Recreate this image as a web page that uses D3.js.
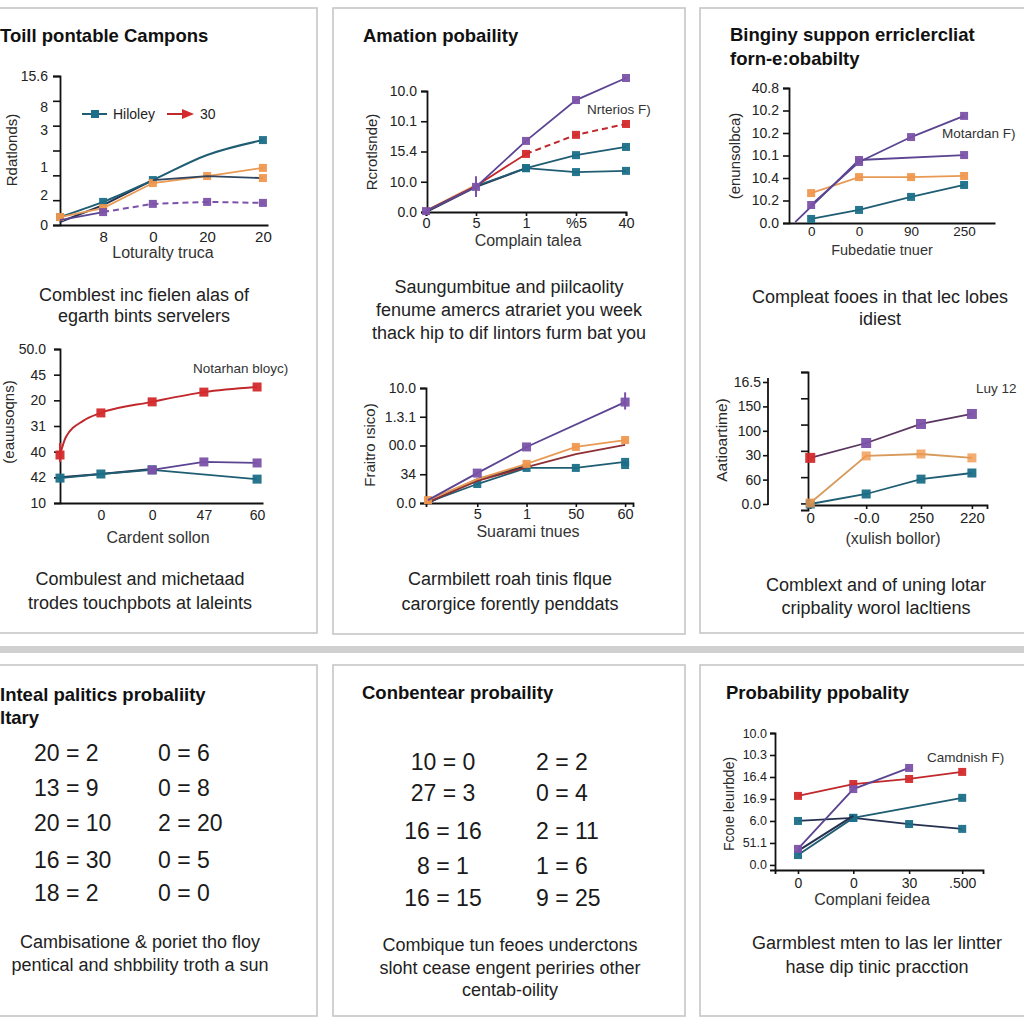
<!DOCTYPE html>
<html><head><meta charset="utf-8">
<script src="https://cdn.jsdelivr.net/npm/d3@7"></script>
<style>body{margin:0;background:#fff}svg{display:block}</style>
</head><body><svg id="c" width="1024" height="1024"></svg>
<script>
// ---------- texts ----------
const titles = ["Toill pontable Campons","Amation pobaility","Binginy suppon erriclercliat","forn-e:obabilty",
  "Inteal palitics probaliity","ltary","Conbentear probaility","Probability ppobality"];
const yTitles = ["Rdatlonds)","Rcrotlsnde)","(enunsolbca)","(eauusoqns)","Fraitro ısico)","Aatioartime)","Fcoıe leuırbde)"];
const xTitles = ["Loturalty truca","Complain talea","Fubedatie tnuer","Cardent sollon","Suarami tnues","(xulish bollor)","Complani feidea"];
const notes = ["Nrterios F)","Motardan F)","Notarhan bloyc)","Luy 12","Camdnish F)"];
const caption1 = ["Comblest inc fielen alas of","egarth bints servelers"];
const caption2 = ["Saungumbitue and piilcaolity","fenume amercs atrariet you week","thack hip to dif lintors furm bat you"];
const caption3 = ["Compleat fooes in that lec lobes","idiest"];
const caption4 = ["Combulest and michetaad","trodes touchpbots at laleints"];
const caption5 = ["Carmbilett roah tinis flque","carorgice forently penddats"];
const caption6 = ["Comblext and of uning lotar","cripbality worol lacltiens"];
const caption7 = ["Cambisatione & poriet tho floy","pentical and shbbility troth a sun"];
const caption8 = ["Combique tun feoes underctons","sloht cease engent periries other","centab-oility"];
const caption9 = ["Garmblest mten to las ler lintter","hase dip tinic pracction"];
const p1Legend = ["Hiloley","30"];

// ---------- tables ----------
const t7Left = ["20 = 2","13 = 9","20 = 10","16 = 30","18 = 2"];
const t7Right = ["0 = 6","0 = 8","2 = 20","0 = 5","0 = 0"];
const t8Left = ["10 = 0","27 = 3","16 = 16","8 = 1","16 = 15"];
const t8Right = ["2 = 2","0 = 4","2 = 11","1 = 6","9 = 25"];

// ---------- panel 1 ----------
const p1YPos = [0,1.2,2.34,3.83,4.75,6];
const p1YLabels = ["0","2","1","3","8","15.6"];
const p1XPos = [0.85,1.83,2.9,4];
const p1XLabels = ["8","0","20","20"];
const p1X = [0,0.85,1.83,2.9,4];
const p1Teal = [0.32,0.93,1.81,2.82,3.42];
const p1Orange = [0.32,0.68,1.69,1.97,2.30];
const p1BranchX = [1.83,2.9,4];
const p1Branch = [1.81,1.97,1.89];
const p1PurpleX = [0.85,1.83,2.9,4];
const p1Purple = [0.52,0.85,0.93,0.89];
const p1PurpleStartX = [0,0.85];
const p1PurpleStart = [0.2,0.52];
const p1NavyX = [0,0.85,1.83];
const p1Navy = [0.12,0.8,1.81];

// ---------- panel 2 ----------
const p2YPos = [0,1,2,3,4];
const p2YLabels = ["0.0","10.0","15.4","10.1","10.0"];
const p2X = [0,1,2,3,4];
const p2XLabels = ["0","5","1","%5","40"];
const p2Purple = [0.03,0.83,2.35,3.70,4.43];
const p2RedSolidX = [0,1,2];
const p2RedSolid = [0.03,0.86,1.92];
const p2RedDashX = [2,3,4];
const p2RedDash = [1.92,2.55,2.91];
const p2Teal = [0.03,0.86,1.45,1.88,2.15];
const p2Teal2X = [2,3,4];
const p2Teal2 = [1.45,1.32,1.36];
const p2NavyX = [0,1,2];
const p2Navy = [0,0.83,1.45];
const p2OrangeX = [0,1];
const p2Orange = [0.05,0.9];
const p2PurpleErr = [0.5,1.18];

// ---------- panel 3 ----------
const p3YPos = [0,1,2,3,4,5,6];
const p3YLabels = ["0.0","10.2","10.4","10.1","10.2","10.2","40.8"];
const p3X = [0.43,1.36,2.37,3.4];
const p3XLabels = ["0","0","90","250"];
const p3Purple = [0.8,2.71,3.82,4.76];
const p3Purple2X = [0.12,1.36,3.4];
const p3Purple2 = [0.04,2.8,3.02];
const p3Orange = [1.33,2.04,2.04,2.09];
const p3Teal = [0.18,0.58,1.16,1.69];

// ---------- panel 4 ----------
const p4YPos = [0,1,2,3,4,5,6];
const p4YLabels = ["10","42","40","31","20","45","50.0"];
const p4XPos = [0.83,1.87,2.92,4];
const p4XLabels = ["0","0","47","60"];
const p4RedX = [0,0.12,0.47,0.83,1.87,2.92,4];
const p4Red = [1.87,2.57,3.2,3.51,3.94,4.32,4.52];
const p4RedErr = [1.6,2.34];
const p4TealX = [0,0.83,1.87,4];
const p4Teal = [0.97,1.13,1.29,0.93];
const p4PurpleX = [1.87,2.92,4];
const p4Purple = [1.29,1.6,1.56];
const p4NavyX = [0,0.83,1.87];
const p4Navy = [1.0,1.13,1.32];

// ---------- panel 5 ----------
const p5YPos = [0,1,2,3,4];
const p5YLabels = ["0.0","34","00.0","1.3.1","10.0"];
const p5XPos = [1,2,3,4];
const p5XLabels = ["5","1","50","60"];
const p5X = [0,1,2,3,4];
const p5PurpleX = [0,1,2,4];
const p5Purple = [0.1,1.04,1.95,3.51];
const p5PurpleErr = [3.25,3.85];
const p5Orange = [0.1,0.83,1.36,1.95,2.19];
const p5Red = [0.03,0.77,1.25,1.7,2.02];
const p5Teal = [0.03,0.66,1.22,1.22,1.43];
const p5TealExtra = [1.32];
const p5NavyX = [0,1,2];
const p5Navy = [0,0.83,1.29];

// ---------- panel 6 ----------
const p6YPos = [0,1,2,3,4,5];
const p6YLabels = ["0.0","60","30","100","150","16.5"];
const p6X = [0.04,1.04,2.02,2.93];
const p6XLabels = ["0","-0.0","250","220"];
const p6Top = [1.89,2.5,3.28,3.69];
const p6Orange = [0.04,1.97,2.05,1.89];
const p6Teal = [0,0.41,1.02,1.27];

// ---------- panel 9 ----------
const p9YPos = [0,1,2,3,4,5,6];
const p9YLabels = ["0.0","51.1","6.0","16.9","16.4","10.3","10.0"];
const p9X = [0.42,1.43,2.45,3.42];
const p9XLabels = ["0","0","30",".500"];
const p9Red = [3.14,3.68,3.91,4.23];
const p9PurpleX = [0.42,1.43,2.45];
const p9Purple = [0.73,3.45,4.41];
const p9Teal1X = [0.42,1.43,3.42];
const p9Teal1 = [0.45,2.14,3.05];
const p9Teal2 = [2.0,2.14,1.86,1.64];
const p9NavyX = [0.42,1.43];
const p9Navy = [0.64,2.23];

// ---------- drawing ----------
const FONT = '"Liberation Sans", Arial, Helvetica, sans-serif';
const COL = {
  teal:"#1b6f88", tealL:"#1f5d73", orange:"#f0974e", orangeL:"#e89a55",
  purple:"#7b52a8", purpleL:"#5b4491", red:"#d42a2c", redL:"#c0282c",
  navy:"#25304f", maroon:"#5a3560"
};
const svg = d3.select("#c");

function box(x,y,w,h){
  svg.append("rect").attr("x",x).attr("y",y).attr("width",w).attr("height",h)
    .attr("fill","#fff").attr("stroke","#c6c6c6").attr("stroke-width",1.6);
}
function txt(s,x,y,o={}){
  return svg.append("text").attr("x",x).attr("y",y).text(s)
    .attr("font-family",FONT).attr("font-size",o.fs||18)
    .attr("font-weight",o.bold?"bold":"normal")
    .attr("fill",o.fill||"#1e1e1e").attr("text-anchor",o.anchor||"start");
}
function rtxt(s,x,y,fs){
  svg.append("text").attr("transform",`translate(${x},${y}) rotate(-90)`).text(s)
    .attr("font-family",FONT).attr("font-size",fs||15).attr("fill","#2a2a2a").attr("text-anchor","middle");
}
function lines(arr,cx,y0,dy,fs){ arr.forEach((s,i)=>txt(s,cx,y0+i*dy,{fs:fs||18,anchor:"middle",fill:"#222"})); }
function styleAxis(g,fs){
  g.select(".domain").attr("stroke","#111").attr("stroke-width",1.8);
  g.selectAll(".tick line").attr("stroke","#111").attr("stroke-width",1.6);
  g.selectAll(".tick text").attr("fill","#222").attr("font-size",fs).attr("font-family",FONT);
}
function yAxis(sy,x,pos,labels,o={}){
  const a = d3.axisLeft(sy).tickValues(pos).tickFormat((d,i)=>labels?labels[i]:"")
    .tickSizeOuter(0).tickSize(o.ts==null?6:o.ts).tickPadding(o.pad==null?4:o.pad);
  const g = svg.append("g").attr("transform",`translate(${x},0)`).call(a);
  styleAxis(g,o.fs||14);
  if(o.noDomain) g.select(".domain").remove();
  return g;
}
function xAxis(sx,y,pos,labels,o={}){
  const a = d3.axisBottom(sx).tickValues(pos).tickFormat((d,i)=>labels?labels[i]:"")
    .tickSizeOuter(0).tickSize(o.ts==null?4:o.ts).tickPadding(o.pad==null?3:o.pad);
  const g = svg.append("g").attr("transform",`translate(0,${y})`).call(a);
  styleAxis(g,o.fs||14);
  return g;
}
function series(sx,sy,xs,ys,o){
  const pts = xs.map((x,i)=>[sx(x),sy(ys[i])]);
  if(o.line) svg.append("path").attr("d",d3.line().curve(o.curve||d3.curveLinear)(pts))
    .attr("fill","none").attr("stroke",o.line).attr("stroke-width",o.w||1.8)
    .attr("stroke-dasharray",o.dash||null).attr("opacity",o.op||1);
  if(o.mark){
    const ms = o.ms||8;
    const idx = o.marks || xs.map((_,i)=>i);
    idx.forEach(i=>svg.append("rect").attr("x",pts[i][0]-ms/2).attr("y",pts[i][1]-ms/2)
      .attr("width",ms).attr("height",ms).attr("fill",o.mark).attr("opacity",o.mop||0.95));
  }
}
function errbar(sx,sy,x,lo,hi,c){
  svg.append("line").attr("x1",sx(x)).attr("x2",sx(x)).attr("y1",sy(lo)).attr("y2",sy(hi))
    .attr("stroke",c).attr("stroke-width",2);
}

// frames
box(-2,8,319,625); box(333,8,352,626); box(700,8,340,625);
svg.append("rect").attr("x",0).attr("y",646).attr("width",1024).attr("height",7).attr("fill","#d0d0d0");
box(-2,665,319,351); box(333,665,352,351); box(700,665,340,351);

// ===== Panel 1 =====
{
  txt(titles[0],0,42,{bold:true,fs:18.5,fill:"#111"});
  const sx = d3.scaleLinear().domain([0,4.1]).range([60,268]);
  const sy = d3.scaleLinear().domain([0,6]).range([225,76]);
  yAxis(sy,60,d3.range(7),null,{ts:7});
  yAxis(sy,60,p1YPos,p1YLabels,{ts:0,pad:12,noDomain:true,fs:14});
  xAxis(sx,225,p1XPos,p1XLabels,{ts:0,pad:6,fs:15});
  series(sx,sy,p1NavyX,p1Navy,{line:COL.navy,w:2});
  series(sx,sy,p1X,p1Teal,{line:COL.tealL,curve:d3.curveMonotoneX,mark:COL.teal,marks:[0,1,2,4],w:2});
  series(sx,sy,p1X,p1Orange,{line:COL.orangeL,mark:COL.orange,w:1.8});
  series(sx,sy,p1BranchX,p1Branch,{line:"#2f4660",mark:COL.orange,marks:[2],w:1.8});
  series(sx,sy,p1PurpleStartX,p1PurpleStart,{line:COL.purpleL,w:1.8});
  series(sx,sy,p1PurpleX,p1Purple,{line:COL.purple,dash:"6,4",mark:COL.purple,w:2});
  // legend
  svg.append("line").attr("x1",82).attr("x2",107).attr("y1",114).attr("y2",114).attr("stroke",COL.tealL).attr("stroke-width",2);
  svg.append("rect").attr("x",91).attr("y",110).attr("width",8).attr("height",8).attr("fill",COL.teal);
  txt(p1Legend[0],113,119,{fs:14});
  svg.append("line").attr("x1",167).attr("x2",186).attr("y1",114).attr("y2",114).attr("stroke",COL.redL).attr("stroke-width",2);
  svg.append("path").attr("d","M182,109 L194,114 L182,119 Z").attr("fill",COL.red);
  txt(p1Legend[1],200,119,{fs:14});
  rtxt(yTitles[0],17,150,15);
  txt(xTitles[0],163,258,{fs:16,anchor:"middle",fill:"#333"});
  lines(caption1,144,301,21);
}

// ===== Panel 2 =====
{
  txt(titles[1],363,42,{bold:true,fs:18.5,fill:"#111"});
  const sx = d3.scaleLinear().domain([0,4]).range([426,626]);
  const sy = d3.scaleLinear().domain([0,4]).range([212,91]);
  yAxis(sy,427,p2YPos,p2YLabels,{ts:6,fs:14});
  xAxis(sx,212,p2X,p2XLabels,{ts:4,pad:2,fs:14.5});
  series(sx,sy,p2OrangeX,p2Orange,{line:COL.orangeL,w:1.6,op:0.8});
  series(sx,sy,p2NavyX,p2Navy,{line:COL.navy,w:2});
  series(sx,sy,p2X,p2Teal,{line:COL.tealL,mark:COL.teal,marks:[2,3,4],w:1.8});
  series(sx,sy,p2Teal2X,p2Teal2,{line:COL.tealL,mark:COL.teal,w:1.8});
  series(sx,sy,p2RedSolidX,p2RedSolid,{line:COL.redL,w:1.8});
  series(sx,sy,p2RedDashX,p2RedDash,{line:COL.redL,dash:"6,4",mark:COL.red,w:2});
  series(sx,sy,p2X,p2Purple,{line:COL.purpleL,mark:COL.purple,marks:[0,1,2,3,4],w:1.8});
  errbar(sx,sy,1,p2PurpleErr[0],p2PurpleErr[1],COL.purple);
  txt(notes[0],587,114,{fs:13.5,fill:"#333"});
  rtxt(yTitles[1],377,152,15);
  txt(xTitles[1],528,246,{fs:16,anchor:"middle",fill:"#333"});
  lines(caption2,509,293,23);
}

// ===== Panel 3 =====
{
  txt(titles[2],730,41,{bold:true,fs:18.5,fill:"#111"});
  txt(titles[3],730,65,{bold:true,fs:18.5,fill:"#111"});
  const sx = d3.scaleLinear().domain([0,4]).range([789,995]);
  const sy = d3.scaleLinear().domain([0,6]).range([223,88]);
  yAxis(sy,789,p3YPos,p3YLabels,{ts:6,fs:14});
  xAxis(sx,223,p3X,p3XLabels,{ts:0,pad:3,fs:13.5});
  series(sx,sy,p3X,p3Orange,{line:COL.orangeL,mark:COL.orange,w:1.8});
  series(sx,sy,p3X,p3Teal,{line:COL.tealL,mark:COL.teal,w:1.8});
  series(sx,sy,p3Purple2X,p3Purple2,{line:COL.purpleL,mark:COL.purple,marks:[1,2],w:1.8});
  series(sx,sy,p3X,p3Purple,{line:COL.purpleL,mark:COL.purple,w:1.8});
  txt(notes[1],942,138,{fs:13.5,fill:"#333"});
  rtxt(yTitles[2],740,156,15);
  txt(xTitles[2],882,255,{fs:14.5,anchor:"middle",fill:"#333"});
  lines(caption3,880,303,22);
}

// ===== Panel 4 =====
{
  const sx = d3.scaleLinear().domain([0,4.12]).range([60,263]);
  const sy = d3.scaleLinear().domain([0,6]).range([503,349]);
  yAxis(sy,60,p4YPos,p4YLabels,{ts:6,pad:8,fs:14});
  xAxis(sx,503,p4XPos,p4XLabels,{ts:0,pad:7,fs:14});
  series(sx,sy,p4NavyX,p4Navy,{line:COL.navy,w:2});
  series(sx,sy,p4TealX,p4Teal,{line:COL.tealL,mark:COL.teal,ms:9,w:1.8});
  series(sx,sy,p4PurpleX,p4Purple,{line:COL.purpleL,mark:COL.purple,ms:9,w:1.8});
  series(sx,sy,p4RedX,p4Red,{line:COL.redL,curve:d3.curveMonotoneX,mark:COL.red,marks:[0,3,4,5,6],ms:9,w:2});
  errbar(sx,sy,0,p4RedErr[0],p4RedErr[1],COL.red);
  txt(notes[2],193,373,{fs:13.5,fill:"#333"});
  rtxt(yTitles[3],14,422,15);
  txt(xTitles[3],158,543,{fs:16,anchor:"middle",fill:"#333"});
  lines(caption4,140,585,24);
}

// ===== Panel 5 =====
{
  const sx = d3.scaleLinear().domain([-0.04,4.16]).range([426,633]);
  const sy = d3.scaleLinear().domain([0,4]).range([503,388]);
  yAxis(sy,426,p5YPos,p5YLabels,{ts:6,fs:14});
  xAxis(sx,503,p5XPos,p5XLabels,{ts:4,pad:2,fs:14.5});
  series(sx,sy,p5NavyX,p5Navy,{line:COL.navy,w:2});
  series(sx,sy,p5X,p5Teal,{line:COL.tealL,mark:COL.teal,marks:[1,2,3,4],w:1.8});
  series(sx,sy,[4],p5TealExtra,{mark:COL.teal});
  series(sx,sy,p5X,p5Red,{line:"#8e2f33",w:1.8});
  series(sx,sy,p5X,p5Orange,{line:COL.orangeL,mark:COL.orange,marks:[0,2,3,4],w:1.8});
  series(sx,sy,p5PurpleX,p5Purple,{line:COL.purpleL,mark:COL.purple,marks:[1,2,3],ms:9,w:1.8});
  errbar(sx,sy,4,p5PurpleErr[0],p5PurpleErr[1],COL.purple);
  rtxt(yTitles[4],375,445,15);
  txt(xTitles[4],528,537,{fs:16,anchor:"middle",fill:"#333"});
  lines(caption5,510,585,25);
}

// ===== Panel 6 =====
{
  const sx = d3.scaleLinear().domain([0,3.2]).range([808,987]);
  const sy = d3.scaleLinear().domain([0,5]).range([504,382]);
  const syMain = d3.scaleLinear().domain([-0.25,5]).range([510,372]);
  const g = yAxis(sy,768,p6YPos,p6YLabels,{ts:5,pad:2,fs:14});
  g.select(".domain").attr("d","M0,378V505");
  yAxis(syMain,808,d3.range(6),null,{ts:7});
  xAxis(sx,505,p6X,p6XLabels,{ts:4,pad:3,fs:15});
  series(sx,sy,p6X,p6Teal,{line:COL.tealL,mark:COL.teal,ms:9,w:1.8});
  series(sx,sy,p6X,p6Orange,{line:"#d79a5a",mark:COL.orange,ms:9,mop:0.8,w:1.8});
  series(sx,sy,p6X,p6Top,{line:COL.maroon,mark:COL.purple,marks:[1,2,3],ms:10,w:1.8});
  series(sx,sy,[p6X[0]],[p6Top[0]],{mark:COL.red,ms:10});
  txt(notes[3],976,393,{fs:13.5,fill:"#333"});
  rtxt(yTitles[5],727,440,15.5);
  txt(xTitles[5],893,544,{fs:16,anchor:"middle",fill:"#333"});
  lines(caption6,876,591,23);
}

// ===== Panel 7 (table) =====
{
  txt(titles[4],0,701,{bold:true,fs:18.5,fill:"#111"});
  txt(titles[5],0,724,{bold:true,fs:18.5,fill:"#111"});
  const rows7 = [761,796,831,868,901];
  t7Left.forEach((s,i)=>txt(s,34,rows7[i],{fs:23,fill:"#1a1a1a"}));
  t7Right.forEach((s,i)=>txt(s,158,rows7[i],{fs:23,fill:"#1a1a1a"}));
  lines(caption7,140,948,23);
}

// ===== Panel 8 (table) =====
{
  txt(titles[6],362,699,{bold:true,fs:18.5,fill:"#111"});
  const rows8 = [770,801,839,874,906];
  t8Left.forEach((s,i)=>txt(s,443,rows8[i],{fs:23,anchor:"middle",fill:"#1a1a1a"}));
  t8Right.forEach((s,i)=>txt(s,536,rows8[i],{fs:23,fill:"#1a1a1a"}));
  lines(caption8,510,951,22.5);
}

// ===== Panel 9 =====
{
  txt(titles[7],726,699,{bold:true,fs:18.5,fill:"#111"});
  const sx = d3.scaleLinear().domain([0,3.8]).range([775,983]);
  const sy = d3.scaleLinear().domain([-0.23,6]).range([870,733]);
  yAxis(sy,775,p9YPos,p9YLabels,{ts:5,pad:3,fs:12.5});
  xAxis(sx,870,p9X,p9XLabels,{ts:4,pad:4,fs:14});
  series(sx,sy,p9X,p9Teal2,{line:COL.navy,mark:COL.teal,w:1.8});
  series(sx,sy,p9Teal1X,p9Teal1,{line:COL.tealL,mark:COL.teal,w:1.8});
  series(sx,sy,p9NavyX,p9Navy,{line:COL.navy,w:2});
  series(sx,sy,p9X,p9Red,{line:COL.redL,mark:COL.red,w:1.8});
  series(sx,sy,p9PurpleX,p9Purple,{line:COL.purpleL,mark:COL.purple,marks:[0,1,2],w:1.8});
  txt(notes[4],927,762,{fs:13.5,fill:"#333"});
  rtxt(yTitles[6],734,804,14);
  txt(xTitles[6],872,905,{fs:16,anchor:"middle",fill:"#333"});
  lines(caption9,877,949,24);
}
</script></body></html>
